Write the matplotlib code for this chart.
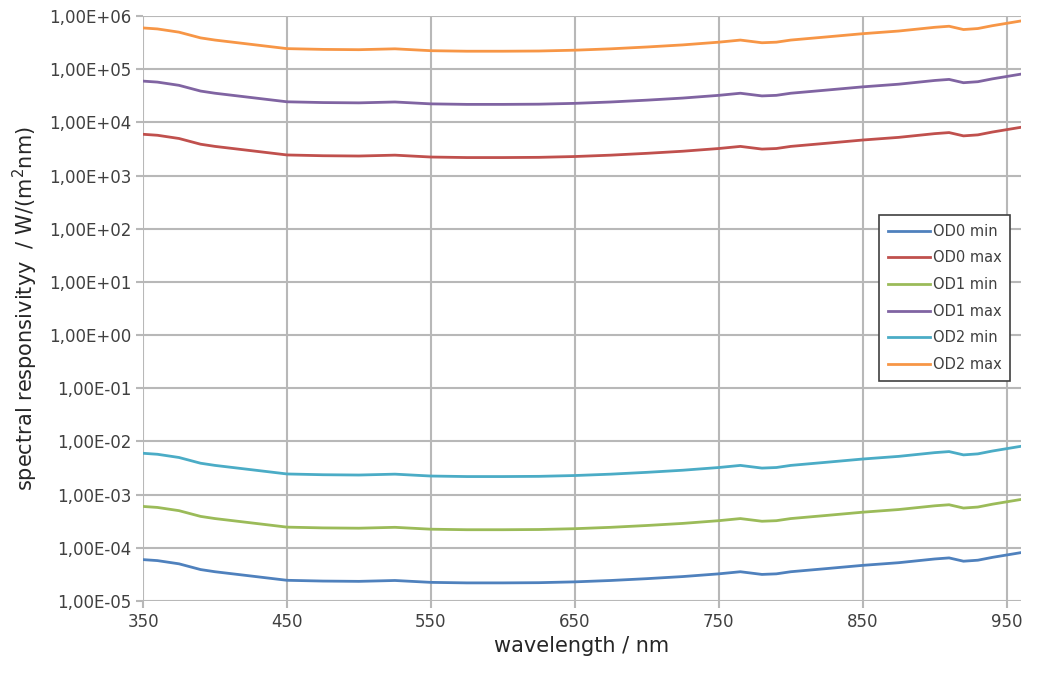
import matplotlib
matplotlib.use("Agg")
import matplotlib.pyplot as plt
from matplotlib.ticker import FuncFormatter, FixedLocator

# wavelength grid (nm)
wavelength = [350, 360, 375, 390, 400, 425, 450, 475, 500, 525, 550, 575, 600, 625,
              650, 675, 700, 725, 750, 765, 780, 790, 800, 825, 850, 875, 900, 910,
              920, 930, 940, 960]

# spectral responsivity / W/(m2 nm)
od0_min = [6.0e-5, 5.75e-5, 5.0e-5, 3.9e-5, 3.55e-5, 2.95e-5, 2.45e-5, 2.37e-5, 2.34e-5,
           2.43e-5, 2.24e-5, 2.19e-5, 2.19e-5, 2.21e-5, 2.29e-5, 2.43e-5, 2.63e-5,
           2.88e-5, 3.24e-5, 3.55e-5, 3.16e-5, 3.24e-5, 3.55e-5, 4.07e-5, 4.68e-5,
           5.25e-5, 6.17e-5, 6.46e-5, 5.6e-5, 5.85e-5, 6.61e-5, 8.13e-5]
od0_max = [6.0e3, 5.75e3, 5.0e3, 3.9e3, 3.55e3, 2.95e3, 2.45e3, 2.37e3, 2.34e3,
           2.43e3, 2.24e3, 2.19e3, 2.19e3, 2.21e3, 2.29e3, 2.43e3, 2.63e3,
           2.88e3, 3.24e3, 3.55e3, 3.16e3, 3.24e3, 3.55e3, 4.07e3, 4.68e3,
           5.25e3, 6.17e3, 6.46e3, 5.6e3, 5.85e3, 6.61e3, 8.13e3]
od1_min = [6.0e-4, 5.75e-4, 5.0e-4, 3.9e-4, 3.55e-4, 2.95e-4, 2.45e-4, 2.37e-4, 2.34e-4,
           2.43e-4, 2.24e-4, 2.19e-4, 2.19e-4, 2.21e-4, 2.29e-4, 2.43e-4, 2.63e-4,
           2.88e-4, 3.24e-4, 3.55e-4, 3.16e-4, 3.24e-4, 3.55e-4, 4.07e-4, 4.68e-4,
           5.25e-4, 6.17e-4, 6.46e-4, 5.6e-4, 5.85e-4, 6.61e-4, 8.13e-4]
od1_max = [6.0e4, 5.75e4, 5.0e4, 3.9e4, 3.55e4, 2.95e4, 2.45e4, 2.37e4, 2.34e4,
           2.43e4, 2.24e4, 2.19e4, 2.19e4, 2.21e4, 2.29e4, 2.43e4, 2.63e4,
           2.88e4, 3.24e4, 3.55e4, 3.16e4, 3.24e4, 3.55e4, 4.07e4, 4.68e4,
           5.25e4, 6.17e4, 6.46e4, 5.6e4, 5.85e4, 6.61e4, 8.13e4]
od2_min = [6.0e-3, 5.75e-3, 5.0e-3, 3.9e-3, 3.55e-3, 2.95e-3, 2.45e-3, 2.37e-3, 2.34e-3,
           2.43e-3, 2.24e-3, 2.19e-3, 2.19e-3, 2.21e-3, 2.29e-3, 2.43e-3, 2.63e-3,
           2.88e-3, 3.24e-3, 3.55e-3, 3.16e-3, 3.24e-3, 3.55e-3, 4.07e-3, 4.68e-3,
           5.25e-3, 6.17e-3, 6.46e-3, 5.6e-3, 5.85e-3, 6.61e-3, 8.13e-3]
od2_max = [6.0e5, 5.75e5, 5.0e5, 3.9e5, 3.55e5, 2.95e5, 2.45e5, 2.37e5, 2.34e5,
           2.43e5, 2.24e5, 2.19e5, 2.19e5, 2.21e5, 2.29e5, 2.43e5, 2.63e5,
           2.88e5, 3.24e5, 3.55e5, 3.16e5, 3.24e5, 3.55e5, 4.07e5, 4.68e5,
           5.25e5, 6.17e5, 6.46e5, 5.6e5, 5.85e5, 6.61e5, 8.13e5]

series = [("OD0 min", od0_min, "#4F81BD"),
          ("OD0 max", od0_max, "#C0504D"),
          ("OD1 min", od1_min, "#9BBB59"),
          ("OD1 max", od1_max, "#8064A2"),
          ("OD2 min", od2_min, "#4BACC6"),
          ("OD2 max", od2_max, "#F79646")]

x_ticks = [350, 450, 550, 650, 750, 850, 950]
y_ticks = [10.0 ** e for e in range(-5, 7)]


def excel_sci(v, pos):
    s = "%.2E" % v
    mant, exp = s.split("E")
    return mant.replace(".", ",") + "E" + exp


fig = plt.figure(figsize=(10.57, 6.73), dpi=100)
ax = fig.add_axes([0.1353, 0.107, 0.8307, 0.869])

for name, vals, col in series:
    ax.plot(wavelength, vals, color=col, lw=2, label=name)

ax.set_yscale("log")
ax.set_xlim(350, 960)
ax.set_ylim(1e-5, 1e6)
ax.xaxis.set_major_locator(FixedLocator(x_ticks))
ax.yaxis.set_major_locator(FixedLocator(y_ticks))
ax.yaxis.set_minor_locator(FixedLocator([]))
ax.yaxis.set_major_formatter(FuncFormatter(excel_sci))

ax.grid(True, color="#b8b8b8", lw=1.5)
ax.set_axisbelow(True)
for sp in ax.spines.values():
    sp.set_visible(False)
ax.tick_params(axis="both", color="#b8b8b8", width=1.5, length=5,
               labelsize=12, labelcolor="#404040")

ax.set_xlabel("wavelength / nm", fontsize=15, color="#262626", labelpad=4)
ax.set_ylabel("spectral responsivityy  / W/(m$^2$nm)", fontsize=15, color="#262626",
              labelpad=6)

leg = ax.legend(loc="upper left", bbox_to_anchor=(0.838, 0.660), borderaxespad=0,
                fancybox=False, framealpha=1, edgecolor="#404040", fontsize=10.5,
                handlelength=2.9, handletextpad=0.2, labelspacing=0.8,
                borderpad=0.6)
leg.get_frame().set_linewidth(1.2)
for t in leg.get_texts():
    t.set_color("#404040")

fig.savefig("out.png", dpi=100)
